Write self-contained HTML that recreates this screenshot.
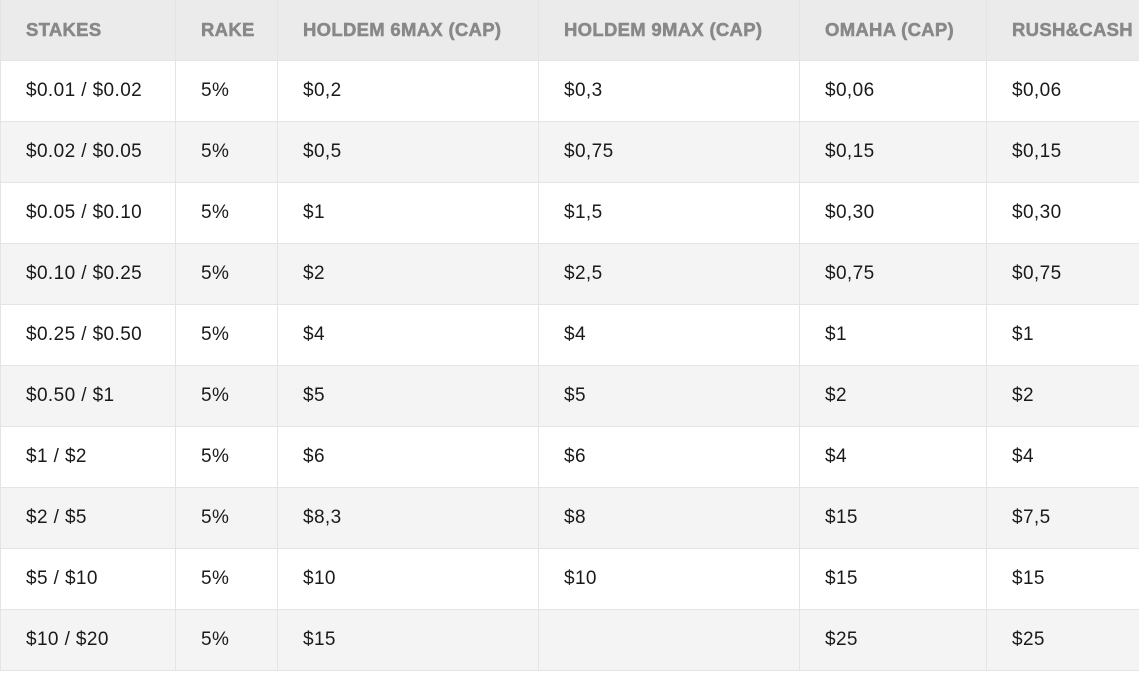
<!DOCTYPE html>
<html><head><meta charset="utf-8"><style>
body{margin:0;background:#fff;width:1147px;height:675px;overflow:hidden;font-family:"Liberation Sans",sans-serif;}
.wrap{position:absolute;left:0;top:0;width:1139px;height:675px;overflow:hidden;}
table{width:1160px;border-collapse:collapse;table-layout:fixed;}
td,th{border:1px solid #e4e4e4;padding:0 0 0 25px;text-align:left;white-space:nowrap;overflow:visible;height:60px;box-sizing:border-box;}
th{background:#ebebeb;color:#888;font-weight:700;font-size:18.5px;border-top:none;letter-spacing:0.3px;-webkit-text-stroke:0.5px #888;}
td{font-size:19px;color:#1a1a1a;letter-spacing:0.4px;}
tbody tr:nth-child(even) td{background:#f4f4f4;}
tbody tr:nth-child(odd) td{background:#fff;}
tr{height:61px;}
thead tr{height:60px;}
</style></head><body>
<div class="wrap">
<table>
<colgroup><col style="width:175px"><col style="width:102px"><col style="width:261px"><col style="width:261px"><col style="width:187px"><col style="width:174px"></colgroup>
<thead><tr><th>STAKES</th><th>RAKE</th><th>HOLDEM 6MAX (CAP)</th><th>HOLDEM 9MAX (CAP)</th><th>OMAHA (CAP)</th><th>RUSH&amp;CASH</th></tr></thead>
<tbody>
<tr><td>$0.01 / $0.02</td><td>5%</td><td>$0,2</td><td>$0,3</td><td>$0,06</td><td>$0,06</td></tr>
<tr><td>$0.02 / $0.05</td><td>5%</td><td>$0,5</td><td>$0,75</td><td>$0,15</td><td>$0,15</td></tr>
<tr><td>$0.05 / $0.10</td><td>5%</td><td>$1</td><td>$1,5</td><td>$0,30</td><td>$0,30</td></tr>
<tr><td>$0.10 / $0.25</td><td>5%</td><td>$2</td><td>$2,5</td><td>$0,75</td><td>$0,75</td></tr>
<tr><td>$0.25 / $0.50</td><td>5%</td><td>$4</td><td>$4</td><td>$1</td><td>$1</td></tr>
<tr><td>$0.50 / $1</td><td>5%</td><td>$5</td><td>$5</td><td>$2</td><td>$2</td></tr>
<tr><td>$1 / $2</td><td>5%</td><td>$6</td><td>$6</td><td>$4</td><td>$4</td></tr>
<tr><td>$2 / $5</td><td>5%</td><td>$8,3</td><td>$8</td><td>$15</td><td>$7,5</td></tr>
<tr><td>$5 / $10</td><td>5%</td><td>$10</td><td>$10</td><td>$15</td><td>$15</td></tr>
<tr><td>$10 / $20</td><td>5%</td><td>$15</td><td></td><td>$25</td><td>$25</td></tr>
</tbody></table>
</div>
</body></html>
